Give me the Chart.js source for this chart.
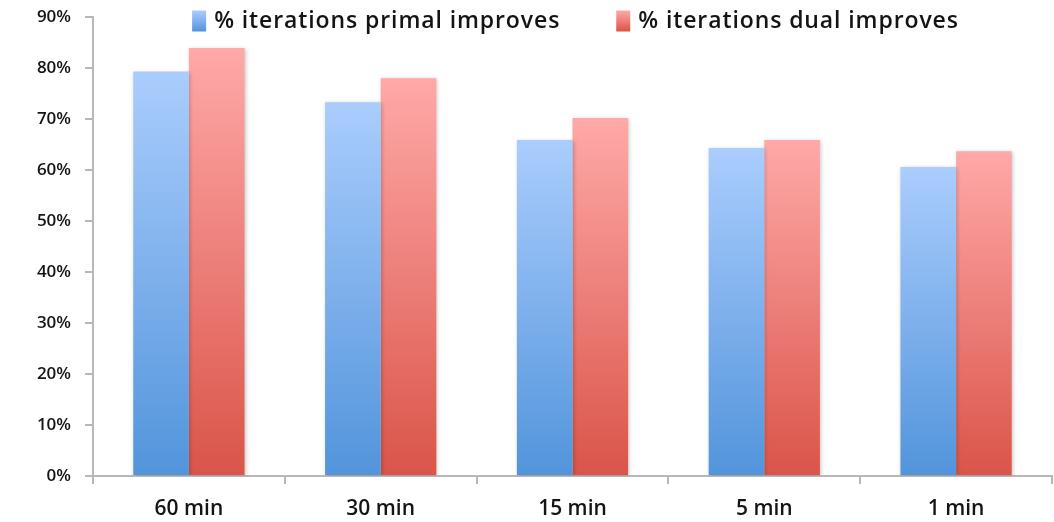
<!DOCTYPE html>
<html>
<head>
  <meta charset="utf-8">
  <title>Primal / dual improves</title>
  <script src="https://cdn.jsdelivr.net/npm/chart.js@4.4.1/dist/chart.umd.min.js"></script>
  <style>
    html, body { margin: 0; padding: 0; background: #ffffff; }
    #wrap { width: 1054px; height: 522px; }
  </style>
</head>
<body>
<div id="wrap"><canvas id="myChart" width="1054" height="522"></canvas></div>
<script>
  // data
  let categories = ["60 min", "30 min", "15 min", "5 min", "1 min"];
  let primal = [79.3, 73.3, 65.9, 64.3, 60.6];
  let dual = [83.9, 78.0, 70.2, 65.9, 63.7];
  let labels = ["% iterations primal improves", "% iterations dual improves"];

  let textColor = "#141414";
  let axisColor = "#b8b8b8";
  let colors = [["#aacdfd", "#5294db"], ["#ffa9a8", "#da5449"]];

  // vertical gradient for each bar, light at top, dark at the base
  function grad(top, bottom) {
    return function (c) {
      let chart = c.chart;
      if (!chart.chartArea || c.type !== 'data') return bottom;
      let y = chart.scales.y;
      let g = chart.ctx.createLinearGradient(0, y.getPixelForValue(c.raw), 0, y.getPixelForValue(0));
      g.addColorStop(0, top);
      g.addColorStop(1, bottom);
      return g;
    };
  }

  let shadow = {
    id: 'shadow',
    beforeDatasetsDraw(chart) {
      let ctx = chart.ctx;
      ctx.save();
      ctx.shadowColor = 'rgba(0,0,0,0.22)';
      ctx.shadowBlur = 4;
      ctx.shadowOffsetX = 1;
      ctx.shadowOffsetY = 1;
    },
    afterDatasetsDraw(chart) {
      chart.ctx.restore();
    }
  };

  // legend sits inside the plot, over the top of the bars
  let topLegend = {
    id: 'topLegend',
    afterDraw(chart) {
      let ctx = chart.ctx;
      let a = chart.chartArea;
      ctx.save();
      ctx.font = "600 23px 'Open Sans'";
      ctx.letterSpacing = "0.9px";
      let boxW = 14, boxH = 21, gap = 8, between = 56;
      let widths = labels.map(t => ctx.measureText(t).width);
      let total = widths.reduce((s, w) => s + boxW + gap + w, 0) + between;
      let x = (a.left + a.right) / 2 - total / 2 + 3;
      let yc = 21;
      labels.forEach((t, i) => {
        let g = ctx.createLinearGradient(0, yc - boxH / 2, 0, yc + boxH / 2);
        g.addColorStop(0, colors[i][0]);
        g.addColorStop(1, colors[i][1]);
        ctx.fillStyle = g;
        ctx.fillRect(x, yc - boxH / 2, boxW, boxH);
        x += boxW + gap;
        ctx.fillStyle = textColor;
        ctx.textBaseline = 'middle';
        ctx.fillText(t, x, yc);
        x += widths[i] + between;
      });
      ctx.restore();
    }
  };

  var ctx = document.getElementById('myChart').getContext('2d');
  var myChart = new Chart(ctx, {
    type: 'bar',
    data: {
      labels: categories,
      datasets: [{
        label: labels[0],
        data: primal,
        backgroundColor: grad(colors[0][0], colors[0][1]),
        categoryPercentage: 0.58,
        barPercentage: 1.0
      }, {
        label: labels[1],
        data: dual,
        backgroundColor: grad(colors[1][0], colors[1][1]),
        categoryPercentage: 0.58,
        barPercentage: 1.0
      }]
    },
    plugins: [shadow, topLegend],
    options: {
      responsive: false,
      animation: false,
      layout: { padding: { top: 17, right: 2, left: 0, bottom: 0 } },
      plugins: {
        tooltip: { enabled: false },
        legend: { display: false }
      },
      scales: {
        x: {
          afterFit(s) { s.height = 46; s.paddingLeft = 0; s.paddingRight = 0; },
          grid: {
            offset: true,
            drawOnChartArea: false,
            drawTicks: true,
            tickLength: 8,
            color: axisColor,
            lineWidth: 2
          },
          border: { color: axisColor, width: 2 },
          ticks: {
            color: textColor,
            padding: 12,
            font: { family: "Open Sans", size: 21, weight: '600' }
          }
        },
        y: {
          min: 0,
          max: 90,
          afterFit(s) { s.width = 93; s.paddingTop = 0; s.paddingBottom = 0; },
          grid: {
            drawOnChartArea: false,
            drawTicks: true,
            tickLength: 8,
            color: axisColor,
            lineWidth: 2
          },
          border: { color: axisColor, width: 2 },
          ticks: {
            stepSize: 10,
            color: textColor,
            padding: 14,
            font: { family: "Open Sans", size: 17, weight: '600' },
            callback: v => v + "%"
          }
        }
      }
    }
  });
</script>
</body>
</html>
